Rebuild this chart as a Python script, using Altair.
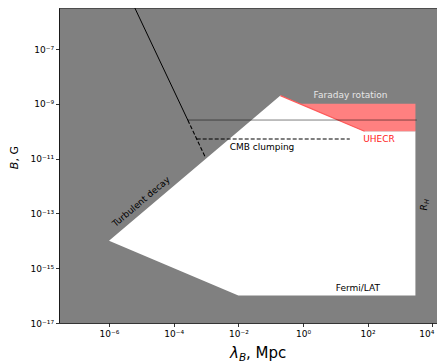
import math
import altair as alt
import pandas as pd

# ---------------- data ----------------
# allowed (white) region: upper and lower boundary along lambda_B [Mpc], B [G]
allowed_lam = [1e-6, 1e-2, 0.2, 80, 3e3]
allowed_upper = [1e-14, 1e-10, 2e-9, 1e-10, 1e-10]
allowed_lower = [1e-14, 1e-16, 1e-16, 1e-16, 1e-16]

# UHECR (red) region
uhecr_lam = [0.8, 80, 3e3]
uhecr_upper = [1e-9, 1e-9, 1e-9]
uhecr_lower = [1e-9, 1e-10, 1e-10]

# red edge (Faraday rotation boundary)
edge_lam = [0.2, 80]
edge_B = [2e-9, 1e-10]

# turbulent decay line (solid part, dashed part)
td_solid_lam = [6.3e-6, 2.73e-4]
td_solid_B = [3.16e-6, 2.57e-10]
td_dash_lam = [2.73e-4, 9.3e-4]
td_dash_B = [2.57e-10, 1.19e-11]

# horizontal solid line
hl_lam = [2.73e-4, 3.3e3]
hl_B = [2.57e-10, 2.57e-10]

# CMB clumping dashed line
cmb_lam = [5.15e-4, 28]
cmb_B = [5.2e-11, 5.2e-11]

# ticks
x_tick_values = [1e-6, 1e-4, 1e-2, 1e0, 1e2, 1e4]
x_tick_labels = ["10⁻⁶", "10⁻⁴", "10⁻²", "10⁰", "10²", "10⁴"]
y_tick_values = [1e-17, 1e-15, 1e-13, 1e-11, 1e-9, 1e-7]
y_tick_labels = ["10⁻¹⁷", "10⁻¹⁵", "10⁻¹³", "10⁻¹¹", "10⁻⁹", "10⁻⁷"]

# annotations (data coordinates)
ann_text = ["Faraday rotation", "UHECR", "CMB clumping", "Fermi/LAT"]
ann_x = [29.5, 224, 0.054, 50]
ann_y = [2.07e-9, 5.4e-11, 2.6e-11, 1.9e-16]
ann_color = ["#e6e6e6", "#ff1a1a", "black", "black"]

FONT = "DejaVu Sans"
W, H = 378, 315
PX_PER_DEC = 32.33
X_MIN_EXP = -7.547


def label_expr(vals, labels):
    parts = [f"round(log(datum.value)/LN10) == {round(math.log10(v))} ? '{l}'"
             for v, l in zip(vals, labels)]
    return " : ".join(parts) + " : ''"


xscale = alt.Scale(type="log", domain=[10 ** X_MIN_EXP, 10 ** (X_MIN_EXP + W / PX_PER_DEC)], nice=False)
yscale = alt.Scale(type="log", domain=[1e-17, 10 ** -5.5], nice=False)
common_axis = dict(grid=False, title=None, labelFont=FONT, labelFontSize=9, labelColor="black",
                   tickColor="black", tickSize=3.5, tickWidth=0.8, domainColor="black",
                   domainWidth=0.8, labelFlush=False, labelOverlap=False)
xaxis = alt.Axis(values=x_tick_values, labelExpr=label_expr(x_tick_values, x_tick_labels),
                 labelPadding=3,
                 labelOffset={"condition": {"test": "datum.value > 1000", "value": -6}, "value": 0},
                 **common_axis)
yaxis = alt.Axis(values=y_tick_values, labelExpr=label_expr(y_tick_values, y_tick_labels),
                 labelPadding=2, **common_axis)


def X(f="lam"):
    return alt.X(f, type="quantitative", scale=xscale, axis=xaxis)


def Y(f="B"):
    return alt.Y(f, type="quantitative", scale=yscale, axis=yaxis)


allowed_df = pd.DataFrame({"lam": allowed_lam, "up": allowed_upper, "lo": allowed_lower})
uhecr_df = pd.DataFrame({"lam": uhecr_lam, "up": uhecr_upper, "lo": uhecr_lower})

white = alt.Chart(allowed_df).mark_area(color="white", opacity=1, clip=True).encode(
    x=X(), y=Y("up"), y2="lo")
red = alt.Chart(uhecr_df).mark_area(color="#ff8080", opacity=1, clip=True).encode(
    x=X(), y=Y("up"), y2="lo")


def line(lams, Bs, **kw):
    return alt.Chart(pd.DataFrame({"lam": lams, "B": Bs})).mark_line(clip=True, **kw).encode(
        x=X(), y=Y())


edge = line(edge_lam, edge_B, color="#ff5a5a", strokeWidth=1.3)
td_solid = line(td_solid_lam, td_solid_B, color="black", strokeWidth=1)
td_dash = line(td_dash_lam, td_dash_B, color="black", strokeWidth=1.1, strokeDash=[4, 2])
hline = line(hl_lam, hl_B, color="black", opacity=0.5, strokeWidth=1)
cmb = line(cmb_lam, cmb_B, color="black", strokeWidth=1.1, strokeDash=[4, 2])

layers = [white, red, edge, td_solid, td_dash, hline, cmb]

for t, xv, yv, c in zip(ann_text, ann_x, ann_y, ann_color):
    layers.append(alt.Chart(pd.DataFrame({"lam": [xv], "B": [yv], "t": [t]})).mark_text(
        font=FONT, fontSize=9, color=c, align="center", baseline="middle").encode(
        x=X(), y=Y(), text="t:N"))

# rotated "Turbulent decay"
layers.append(alt.Chart(pd.DataFrame({"lam": [10 ** -5.01], "B": [10 ** -12.57], "t": ["Turbulent decay"]}))
              .mark_text(font=FONT, fontSize=9, color="black", align="center", baseline="middle",
                         angle=319.7).encode(x=X(), y=Y(), text="t:N"))
# R_H
layers.append(alt.Chart(pd.DataFrame({"lam": [6840], "B": [1.27e-13], "t": ["R"]}))
              .mark_text(font=FONT, fontSize=9, fontStyle="italic", color="black", align="left",
                         baseline="alphabetic", angle=270).encode(x=X(), y=Y(), text="t:N"))
layers.append(alt.Chart(pd.DataFrame({"lam": [8180], "B": [2.19e-13], "t": ["H"]}))
              .mark_text(font=FONT, fontSize=6.5, fontStyle="italic", color="black", align="left",
                         baseline="alphabetic", angle=270).encode(x=X(), y=Y(), text="t:N"))

one = pd.DataFrame({"a": [0]})
# top spine
layers.append(alt.Chart(one).mark_rule(color="black", strokeWidth=0.8).encode(
    x=alt.value(0), x2=alt.value(W), y=alt.value(0)))


def ptext(txt, x, y, size, style="normal", angle=0):
    return alt.Chart(pd.DataFrame({"t": [txt]})).mark_text(
        font=FONT, fontSize=size, fontStyle=style, color="black", align="left",
        baseline="alphabetic", angle=angle).encode(x=alt.value(x), y=alt.value(y), text="t:N")


# x axis title: lambda_B, Mpc
layers.append(ptext("λ", 171, 350, 15, "italic"))
layers.append(ptext("B", 180, 353, 10.5, "italic"))
layers.append(ptext(", Mpc", 187, 350, 15))
# y axis title: B, G
layers.append(ptext("B", -41.5, 161.3, 11, "italic", 270))
layers.append(ptext(", G", -41.5, 153.6, 11, "normal", 270))

chart = alt.layer(*layers).properties(
    width=W, height=H,
    autosize=alt.AutoSizeParams(type="none"),
    padding={"left": 51, "top": 0, "right": 0, "bottom": 41},
).configure_view(fill="#808080", stroke=None)

chart.save("out.html", embed_options={"renderer": "svg", "actions": False})
